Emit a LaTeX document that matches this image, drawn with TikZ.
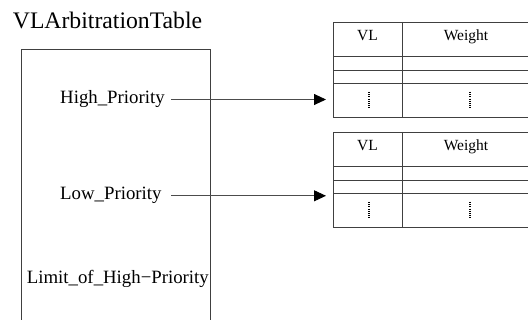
\documentclass[tikz,border=0pt]{standalone}
\usepackage{fontspec}
\setmainfont{Liberation Serif}
\usetikzlibrary{arrows.meta}
\tikzset{
  rule/.style={draw=black!75,line width=0.9pt},
  tablebox/.style={rule,minimum width=200pt,minimum height=95.5pt,inner sep=0pt,anchor=north west},
  field/.style={font=\fontsize{18.8}{21}\selectfont,inner sep=0pt,anchor=base west},
  hdr/.style={font=\fontsize{15.5}{17}\selectfont,inner sep=0pt,anchor=base},
  vdots/.style={line width=1.4pt,dash pattern=on 1pt off 1.2pt},
  link/.style={draw=black!70,line width=0.9pt,-{Triangle[length=12pt,width=11pt,black]},shorten >=7pt}
}
\begin{document}
\begin{tikzpicture}[x=1pt,y=-1pt]
\useasboundingbox (0,0) rectangle (528,320);
\clip (0,0) rectangle (528,320);
\node[anchor=base west,inner sep=0pt,font=\fontsize{23.7}{26}\selectfont] (title) at (12.7,28.3) {VLArbitrationTable};
\node[rule,anchor=north west,minimum width=189pt,minimum height=300pt,inner sep=0pt] (arbox) at (21,49) {};
\node[field,text width=111pt,align=left] (hp) at (60,104) {High\_Priority};
\node[field,text width=111pt,align=left] (lp) at (60,200) {Low\_Priority};
\node[field] (lim) at (26.7,283.3) {Limit\_of\_High\textminus Priority};
% the two weight tables
\foreach \n/\t in {tab1/22,tab2/132}{
  \node[tablebox] (\n) at (333,\t) {};
  \draw[rule] (402,\t) -- (402,\t+95.5);
  \draw[rule] (333,\t+34) -- (533,\t+34);
  \draw[rule] (333,\t+48) -- (533,\t+48);
  \draw[rule] (333,\t+61) -- (533,\t+61);
  \node[hdr] at (367.5,\t+18.5) {VL};
  \node[hdr] at (466,\t+18.5) {Weight};
  \draw[vdots] (369,\t+70) -- (369,\t+87);
  \draw[vdots] (470,\t+70) -- (470,\t+87);
}
\draw[link] (hp.east) -- (hp.east -| tab1.west);
\draw[link] (lp.east) -- (lp.east -| tab2.west);
\end{tikzpicture}
\end{document}
